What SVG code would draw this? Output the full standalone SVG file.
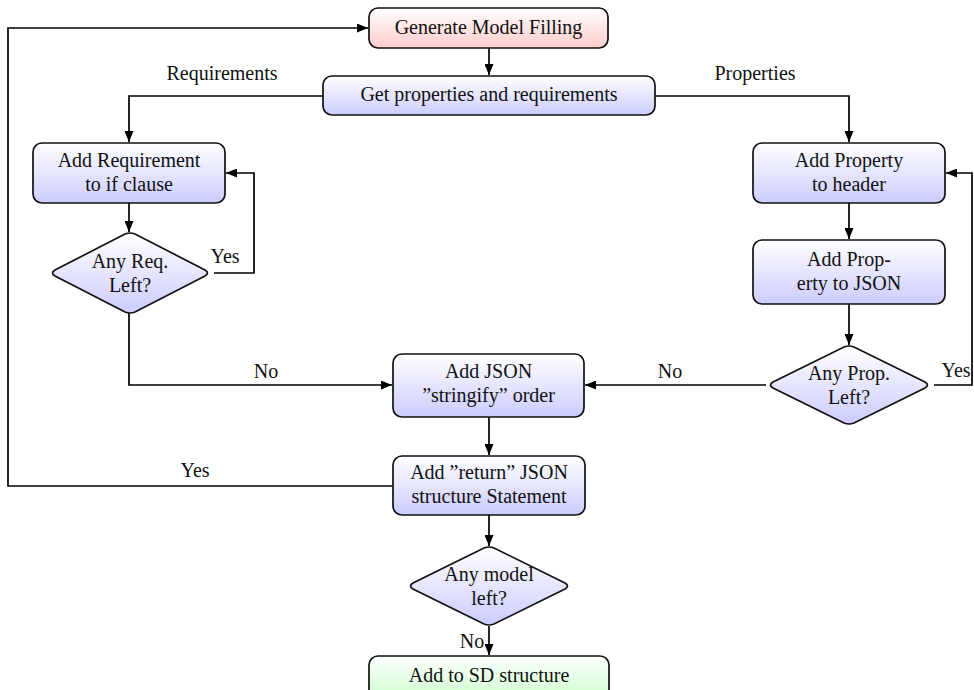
<svg xmlns="http://www.w3.org/2000/svg" width="974" height="690" viewBox="0 0 974 690">
  <defs>
    <linearGradient id="gBlue" x1="0" y1="0" x2="0" y2="1">
      <stop offset="0" stop-color="#ffffff"/>
      <stop offset="1" stop-color="#ccccff"/>
    </linearGradient>
    <linearGradient id="gRed" x1="0" y1="0" x2="0" y2="1">
      <stop offset="0" stop-color="#ffffff"/>
      <stop offset="1" stop-color="#ffcccc"/>
    </linearGradient>
    <linearGradient id="gGreen" x1="0" y1="0" x2="0" y2="1">
      <stop offset="0" stop-color="#ffffff"/>
      <stop offset="1" stop-color="#ccffcc"/>
    </linearGradient>
    <marker id="arrow" viewBox="0 0 11 9" refX="11" refY="4.5" markerWidth="11" markerHeight="9" markerUnits="userSpaceOnUse" orient="auto">
      <path d="M0,0 L11,4.5 L0,9 Z" fill="#000"/>
    </marker>
  </defs>
  <style>
    text { font-family: "Liberation Serif", "Times New Roman", serif; font-size: 20px; fill: #111; text-anchor: middle; }
    .box { stroke: #111; stroke-width: 1.7; }
    .blue { fill: url(#gBlue); }
    .edge { fill: none; stroke: #000; stroke-width: 1.7; }
    .arr { marker-end: url(#arrow); }
  </style>

  <g id="connectors">
    <path class="edge arr" d="M489,48 V75"/>
    <path class="edge arr" d="M323,96 H129 V142"/>
    <path class="edge arr" d="M655,96 H849 V142"/>
    <path class="edge arr" d="M129,203 V232"/>
    <path class="edge arr" d="M214,273 H254 V173 H226"/>
    <path class="edge arr" d="M129,313 V385 H392"/>
    <path class="edge arr" d="M849,203 V239"/>
    <path class="edge arr" d="M849,304 V345"/>
    <path class="edge arr" d="M934,385 H972 V173 H946"/>
    <path class="edge arr" d="M766,385 H585"/>
    <path class="edge arr" d="M489,417 V455"/>
    <path class="edge arr" d="M393,486 H8 V28 H368"/>
    <path class="edge arr" d="M489,515 V546"/>
    <path class="edge arr" d="M489,626 V655"/>
    <text x="222" y="80">Requirements</text>
    <text x="755" y="80">Properties</text>
    <text x="225" y="263">Yes</text>
    <text x="266" y="378">No</text>
    <text x="670" y="378">No</text>
    <text x="956" y="377">Yes</text>
    <text x="195" y="477">Yes</text>
    <text x="472" y="648">No</text>
  </g>

  <g id="generate">
    <rect class="box" x="369" y="8" width="239" height="40" rx="9" fill="url(#gRed)"/>
    <text x="488.5" y="34">Generate Model Filling</text>
  </g>

  <g id="getProps">
    <rect class="box blue" x="323" y="76" width="332" height="39" rx="9"/>
    <text x="489" y="101">Get properties and requirements</text>
  </g>

  <g id="addReq">
    <rect class="box blue" x="33" y="143" width="192" height="60" rx="9"/>
    <text x="129" y="167">Add Requirement</text>
    <text x="129" y="191">to if clause</text>
  </g>

  <g id="anyReq">
    <path class="box blue" d="M125,234 Q130,232 135,234 L205,270 Q210,273 205,276 L135,312 Q130,314 125,312 L55,276 Q50,273 55,270 Z"/>
    <text x="130" y="268">Any Req.</text>
    <text x="130" y="292">Left?</text>
  </g>

  <g id="addProp">
    <rect class="box blue" x="753" y="143" width="192" height="60" rx="9"/>
    <text x="849" y="167">Add Property</text>
    <text x="849" y="191">to header</text>
  </g>

  <g id="addPropJson">
    <rect class="box blue" x="753" y="240" width="192" height="64" rx="9"/>
    <text x="849" y="266">Add Prop-</text>
    <text x="849" y="290">erty to JSON</text>
  </g>

  <g id="anyProp">
    <path class="box blue" d="M844,347 Q849,345 854,347 L925,382 Q930,385 925,388 L854,423 Q849,425 844,423 L773,388 Q768,385 773,382 Z"/>
    <text x="849" y="380">Any Prop.</text>
    <text x="849" y="404">Left?</text>
  </g>

  <g id="stringify">
    <rect class="box blue" x="393" y="354" width="191" height="63" rx="9"/>
    <text x="488.5" y="378">Add JSON</text>
    <text x="488.5" y="402">”stringify” order</text>
  </g>

  <g id="returnStmt">
    <rect class="box blue" x="393" y="456" width="192" height="59" rx="9"/>
    <text x="489" y="479">Add ”return” JSON</text>
    <text x="489" y="503">structure Statement</text>
  </g>

  <g id="anyModel">
    <path class="box blue" d="M484,548 Q489,546 494,548 L565,583 Q570,586 565,589 L494,624 Q489,626 484,624 L413,589 Q408,586 413,583 Z"/>
    <text x="489" y="581">Any model</text>
    <text x="489" y="605">left?</text>
  </g>

  <g id="sdStructure">
    <rect class="box" x="369" y="656" width="240" height="45" rx="9" fill="url(#gGreen)"/>
    <text x="489" y="682">Add to SD structure</text>
  </g>
</svg>
